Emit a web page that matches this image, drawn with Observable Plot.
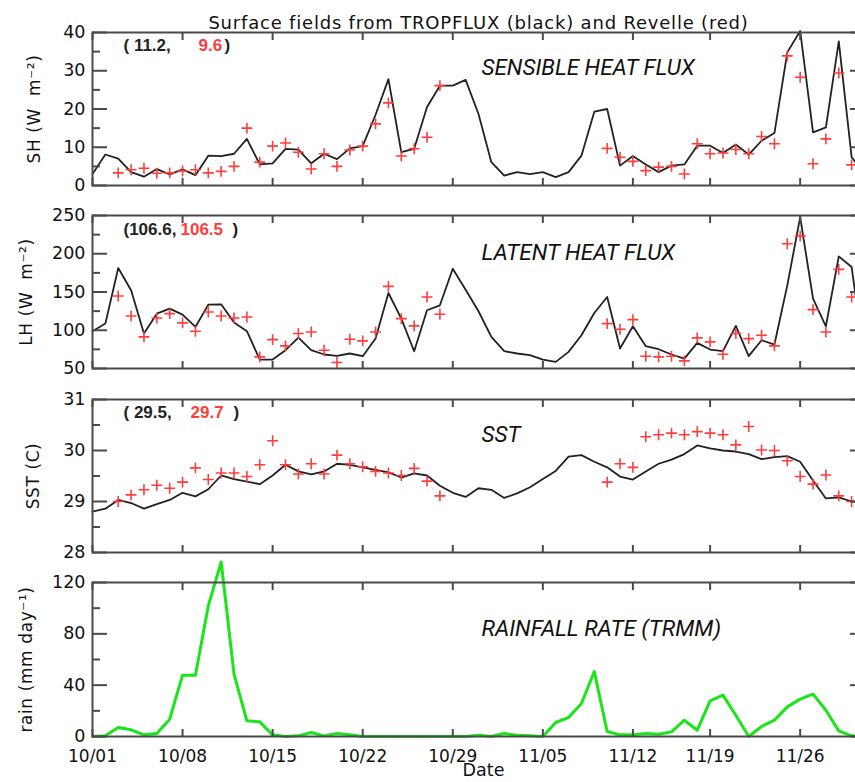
<!DOCTYPE html>
<html><head><meta charset="utf-8">
<script src="https://cdn.jsdelivr.net/npm/d3@7"></script>
<script src="https://cdn.jsdelivr.net/npm/@observablehq/plot@0.6"></script>
<style>
html,body{margin:0;padding:0;background:#fff;overflow:hidden}
#chart{position:relative;width:855px;height:782px;overflow:hidden;background:#fff}
#chart svg{position:absolute;left:0}
.maintitle text{letter-spacing:0.8px}
.ylab text{letter-spacing:0.6px}
</style></head><body><div id="chart"></div>
<script>
// ---- x axis: day index (tick positions / labels) ----
const xTickIndex = [0, 7, 14, 21, 28, 35, 42, 48, 55];
const xTickLabels = ["10/01", "10/08", "10/15", "10/22", "10/29", "11/05", "11/12", "11/19", "11/26"];

// ---- Sensible heat flux (W m-2) ----
const shTropflux = [3.0, 8.1, 7.0, 3.5, 2.3, 4.3, 2.9, 4.2, 2.7, 7.8, 7.7, 8.3, 12.2, 5.5, 5.8, 9.6, 9.4, 5.8, 8.3, 6.9,
  9.7, 10.3, 18.5, 27.8, 8.7, 9.6, 20.5, 26.1, 26.1, 27.6, 18.7, 6.1, 2.6, 3.5, 3.0, 3.5, 2.2, 3.5, 7.8, 19.3,
  20.0, 5.2, 7.7, 5.5, 3.5, 5.2, 5.5, 10.4, 10.4, 8.5, 10.7, 8.1, 11.7, 13.7, 34.8, 40.4, 13.9, 15.2, 37.7, 7.4, 3.0];
const shRevelle = [null, null, 3.3, 4.1, 4.5, 3.2, 3.3, 3.8, 4.1, 3.3, 3.7, 5.0, 15.0, 6.1, 10.3, 11.1, 8.7, 4.3, 8.3, 5.0,
  9.3, 10.3, 16.1, 21.6, 7.7, 9.6, 12.6, 26.1, null, null, null, null, null, null, null, null, null, null, null, null,
  9.7, 7.4, 6.3, 3.9, 4.8, 5.0, 3.0, 10.9, 8.3, 8.5, 9.4, 8.3, 12.8, 10.9, 33.9, 28.3, 5.7, 12.2, 29.4, 5.4, null];

// ---- Latent heat flux (W m-2) ----
const lhTropflux = [98.7, 108.7, 181.3, 152.2, 95.7, 121.7, 128.3, 120.4, 104.3, 133.5, 133.9, 110, 98.7, 61.7, 61.7, 73.9, 90.4, 73.9, 68.3, 66.5,
  69.6, 66.1, 89.1, 148.7, 115.2, 72.6, 126.1, 132.6, 180.4, 153, 124.8, 91.3, 72.6, 69.6, 67.4, 61.7, 58.7, 71.7, 93.5, 122.6,
  143.5, 76.1, 105.2, 79.1, 75.2, 68.3, 63, 83.5, 74.8, 72.6, 105.7, 66.1, 87, 81.3, 158.7, 247.8, 141.3, 105.2, 196.5, 182.6, 60];
const lhRevelle = [null, null, 144.8, 118.7, 91.3, 116.1, 121.7, 109.6, 98.7, 123.9, 118.7, 116.1, 117.4, 65.2, 87.8, 79.6, 95.7, 97.8, 73.9, 57.8,
  88.3, 86.1, 97.8, 157.4, 115.2, 105.7, 143.5, 120.9, null, null, null, null, null, null, null, null, null, null, null, null,
  108.7, 101.3, 113.9, 66.1, 65.2, 66.1, 60, 90, 84.8, 68.7, 95.7, 89.1, 93.5, 79.6, 213, 223, 127, 97.8, 179.6, 143.5, null];

// ---- SST (C) ----
const sstTropflux = [28.80, 28.86, 29.03, 28.97, 28.86, 28.95, 29.03, 29.17, 29.10, 29.24, 29.51, 29.44, 29.39, 29.34, 29.51, 29.72, 29.59, 29.53, 29.59, 29.74,
  29.72, 29.67, 29.62, 29.57, 29.47, 29.55, 29.51, 29.31, 29.17, 29.09, 29.26, 29.23, 29.07, 29.16, 29.28, 29.44, 29.60, 29.88, 29.91, 29.78,
  29.67, 29.49, 29.43, 29.59, 29.74, 29.82, 29.93, 30.10, 30.04, 30.00, 29.98, 29.93, 29.83, 29.87, 29.89, 29.78, 29.41, 29.06, 29.08, 29.00, 28.97];
const sstRevelle = [null, null, 29.00, 29.13, 29.23, 29.32, 29.26, 29.38, 29.66, 29.43, 29.56, 29.56, 29.49, 29.72, 30.19, 29.72, 29.54, 29.74, 29.54, 29.91,
  29.74, 29.68, 29.59, 29.56, 29.51, 29.65, 29.40, 29.11, null, null, null, null, null, null, null, null, null, null, null, null,
  29.38, 29.74, 29.67, 30.27, 30.31, 30.34, 30.31, 30.37, 30.34, 30.31, 30.11, 30.47, 30.01, 30.00, 29.80, 29.49, 29.34, 29.52, 29.11, 29.00, null];

// ---- Rainfall rate, TRMM (mm day-1) ----
const rainTrmm = [0, 0.5, 7.0, 5.2, 1.3, 2.3, 13.5, 47.8, 47.8, 101.8, 136, 48.6, 12.2, 11.4, 1.3, 0, 0.5, 3.1, 0.5, 2.3,
  1.3, 0, 0, 0, 0, 0, 0, 0, 0, 0, 1, 0, 2.3, 1, 0.5, 0, 10.9, 14.8, 25.7, 50.6,
  3.9, 1.3, 1.3, 2.3, 1.8, 3.6, 12.7, 4.9, 27.8, 32.2, 16.6, 0, 7.8, 12.7, 23.1, 29.1, 33, 20.5, 4.4, 0.5, 0];

// ---- text ----
const mainTitle = "Surface fields from TROPFLUX (black) and Revelle (red)";
const panelTitles = ["SENSIBLE HEAT FLUX", "LATENT HEAT FLUX", "SST", "RAINFALL RATE (TRMM)"];
const yLabels = ["SH (W  m\u207B\u00B2)", "LH (W  m\u207B\u00B2)", "SST (C)", "rain (mm day\u207B\u00B9)"];
const meansBlack = ["( 11.2,", "(106.6,", "( 29.5,"];
const meansRed = ["9.6", "106.5", "29.7"];

const toRows = (arr) => arr.map((v, i) => ({i, v})).filter(d => d.v != null);

const W = 864, ML = 92;
const FRAME = "#4a4a4a";
const RED = "#ff3d3d";
const TXT = "#111";
const tickFont = "DejaVu Sans, sans-serif";

function panel(cfg) {
  const marks = [];
  if (cfg.black) marks.push(Plot.line(toRows(cfg.black), {x: "i", y: "v", stroke: "#222", strokeWidth: 1.8}));
  if (cfg.red) marks.push(Plot.dot(toRows(cfg.red), {x: "i", y: "v", symbol: "plus", r: 3.6, stroke: RED, strokeWidth: 1.6}));
  if (cfg.green) marks.push(Plot.line(toRows(cfg.green), {x: "i", y: "v", stroke: "#19e619", strokeWidth: 3}));
  marks.push(Plot.frame({stroke: FRAME, strokeWidth: 2}));
  // left axis: major ticks with labels, minor ticks, all pointing inward
  marks.push(Plot.axisY(cfg.yMajor, {anchor: "left", tickSize: -15, tickPadding: 22, label: null, stroke: FRAME, strokeWidth: 2,
    fill: TXT, fontSize: 17.5, tickFormat: d => String(d)}));
  marks.push(Plot.axisY(cfg.yMinor, {anchor: "left", tickSize: -8, tickFormat: () => "", label: null, stroke: FRAME, strokeWidth: 2}));
  marks.push(Plot.axisY(cfg.yMajor, {anchor: "right", tickSize: -15, tickFormat: () => "", label: null, stroke: FRAME, strokeWidth: 2}));
  marks.push(Plot.axisY(cfg.yMinor, {anchor: "right", tickSize: -8, tickFormat: () => "", label: null, stroke: FRAME, strokeWidth: 2}));
  // x ticks top and bottom
  marks.push(Plot.axisX(xTickIndex, {anchor: "top", tickSize: -7, tickFormat: () => "", label: null, stroke: FRAME, strokeWidth: 2}));
  marks.push(Plot.axisX(xTickIndex, {anchor: "bottom", tickSize: -7, tickPadding: 20, label: null, stroke: FRAME, strokeWidth: 2, fill: TXT,
    fontSize: 17, tickFormat: cfg.xLabels ? (d => xTickLabels[xTickIndex.indexOf(d)]) : () => ""}));
  // y axis title
  marks.push(Plot.text([cfg.yLabel], {text: d => d, frameAnchor: "left", rotate: -90, dx: cfg.yLabelDx, dy: cfg.yLabelDy || 0,
    lineAnchor: "middle", textAnchor: "middle", fontSize: 17, fontFamily: tickFont, fill: TXT, className: "ylab"}));
  // panel title (italic)
  marks.push(Plot.text([cfg.title], {text: d => d, frameAnchor: "top-left", dx: 389, dy: cfg.titleDy, textAnchor: "start",
    lineAnchor: "middle", fontSize: 22.5, fontStyle: "italic", fontFamily: "Roboto, sans-serif", fill: "#111"}));
  // means annotation
  if (cfg.means) {
    const m = cfg.means;
    const common = {frameAnchor: "top-left", dy: m.dy, textAnchor: "start", lineAnchor: "middle", fontSize: 17,
      fontWeight: "bold", fontFamily: "Liberation Sans, Arial, sans-serif"};
    marks.push(Plot.text([m.black], {...common, text: d => d, dx: m.dx[0], fill: "#222"}));
    marks.push(Plot.text([m.red], {...common, text: d => d, dx: m.dx[1], fill: RED}));
    marks.push(Plot.text([")"], {...common, text: d => d, dx: m.dx[2], fill: "#222"}));
  }
  if (cfg.extra) marks.push(...cfg.extra);
  const svg = Plot.plot({
    width: W,
    height: cfg.mt + cfg.frameH + cfg.mb,
    marginLeft: ML, marginRight: 0, marginTop: cfg.mt, marginBottom: cfg.mb,
    style: {background: "transparent", maxWidth: "none", overflow: "visible", fontFamily: tickFont, fontSize: "17px", color: TXT},
    x: {domain: [0, 60]},
    y: {domain: cfg.yDomain},
    marks
  });
  svg.style.top = cfg.top + "px";
  document.getElementById("chart").appendChild(svg);
}

panel({
  top: 20, mt: 12, mb: 12, frameH: 153,
  yDomain: [0, 40], yMajor: [0, 10, 20, 30, 40], yMinor: [5, 15, 25, 35],
  black: shTropflux, red: shRevelle,
  yLabel: yLabels[0], yLabelDx: -58,
  title: panelTitles[0], titleDy: 35,
  means: {black: meansBlack[0], red: meansRed[0], dx: [31, 106, 132], dy: 13},
  extra: [Plot.text([mainTitle], {text: d => d, frameAnchor: "top", dy: -4, lineAnchor: "bottom", fontSize: 18,
    fontFamily: tickFont, fill: TXT, className: "maintitle"})]
});
panel({
  top: 203, mt: 12, mb: 12, frameH: 153,
  yDomain: [50, 250], yMajor: [50, 100, 150, 200, 250], yMinor: [75, 125, 175, 225],
  black: lhTropflux, red: lhRevelle,
  yLabel: yLabels[1], yLabelDx: -66,
  title: panelTitles[1], titleDy: 37,
  means: {black: meansBlack[1], red: meansRed[1], dx: [31, 88, 140], dy: 14}
});
panel({
  top: 387, mt: 12, mb: 12, frameH: 153,
  yDomain: [28, 31], yMajor: [28, 29, 30, 31], yMinor: [28.5, 29.5, 30.5],
  black: sstTropflux, red: sstRevelle,
  yLabel: yLabels[2], yLabelDx: -59,
  title: panelTitles[2], titleDy: 35,
  means: {black: meansBlack[2], red: meansRed[2], dx: [31, 98, 141], dy: 13}
});
panel({
  top: 550, mt: 32, mb: 46, frameH: 154,
  yDomain: [0, 120], yMajor: [0, 40, 80, 120], yMinor: [20, 60, 100],
  green: rainTrmm,
  yLabel: yLabels[3], yLabelDx: -66,
  title: panelTitles[3], titleDy: 46,
  xLabels: true,
  extra: [Plot.text(["Date"], {text: d => d, frameAnchor: "bottom", dx: 5, dy: 34, lineAnchor: "middle", fontSize: 17.5,
    fontFamily: tickFont, fill: TXT})]
});
</script></body></html>
